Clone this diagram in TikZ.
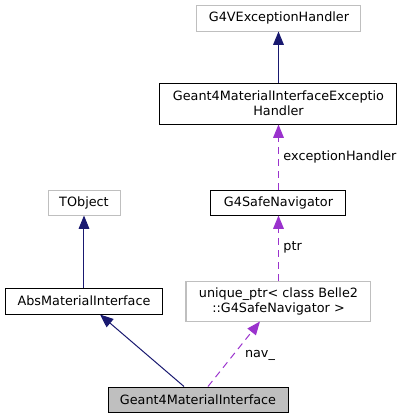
\documentclass[tikz,border=0pt]{standalone}
\usepackage{fontspec}
\setmainfont{DejaVu Sans}
\usetikzlibrary{arrows.meta}

\definecolor{inheritblue}{RGB}{25,25,112}
\definecolor{usagepurple}{RGB}{154,50,205}
\definecolor{boxgray}{RGB}{191,191,191}

\tikzset{every picture/.style={line width=0.75pt}}
\tikzset{
  clsbox/.style={draw=black, inner sep=0pt, align=center, font=\fontsize{9.6}{11.2}\selectfont},
  extbox/.style={clsbox, draw=boxgray},
  inherit/.style={draw=inheritblue, -{Triangle[length=10pt,width=8pt]}},
  usage/.style={draw=usagepurple, dash pattern=on 5.25pt off 3.75pt, -{Triangle[length=10pt,width=8pt]}},
  edgelabel/.style={font=\fontsize{9.6}{11.2}\selectfont, inner sep=0.75pt}
}

\begin{document}
\begin{tikzpicture}[x=0.75pt,y=0.75pt,yscale=-1,xscale=1]
\useasboundingbox (0,0) rectangle (404,419);

%Shape: Rectangle [G4VExceptionHandler]
\node [extbox, minimum width=123pt, minimum height=19.5pt] (g4v) at (279,18) {G4VExceptionHandler};
%Shape: Rectangle [exception handler]
\node [clsbox, minimum width=177.75pt, minimum height=30.75pt] (g4exc) at (278.5,103.5) {Geant4MaterialInterfaceExceptio\\Handler};
%Shape: Rectangle [G4SafeNavigator]
\node [clsbox, minimum width=101.25pt, minimum height=18.75pt] (safenav) at (278.5,202.5) {G4SafeNavigator};
%Shape: Rectangle [TObject]
\node [extbox, minimum width=54pt, minimum height=18.75pt] (tobj) at (84,202.5) {TObject};
%Shape: Rectangle [AbsMaterialInterface]
\node [clsbox, minimum width=118.5pt, minimum height=19.5pt] (absmat) at (84,301) {AbsMaterialInterface};
%Shape: Rectangle [unique_ptr]
\node [extbox, minimum width=138.75pt, minimum height=30pt] (uptr) at (278.5,301) {unique\_ptr< class Belle2\\::G4SafeNavigator >};
%Shape: Rectangle [Geant4MaterialInterface]
\node [clsbox, fill=boxgray, minimum width=135pt, minimum height=18.75pt] (g4mat) at (198,399.5) {Geant4MaterialInterface};

%Straight Lines [inheritance]
\draw [inherit] (g4exc.north) -- (g4exc.north |- g4v.south);
\draw [inherit] (absmat.north) -- (tobj.south);
\draw [inherit] ([xshift=-10.5pt]g4mat.north) -- ([xshift=12pt]absmat.south);
%Straight Lines [usage]
\draw [usage] (safenav.north) -- (safenav.north |- g4exc.south);
\draw [usage] (uptr.north) -- (uptr.north |- safenav.south);
\draw [usage] ([xshift=7.5pt]g4mat.north) -- ([xshift=-13.9pt]uptr.south);

% Text Node
\node [edgelabel, anchor=west] (lblexc) at (282,157) {exceptionHandler};
% Text Node
\node [edgelabel, anchor=west] (lblptr) at (282,247) {ptr};
% Text Node
\node [edgelabel] (lblnav) at (260,355) {nav\_};

\end{tikzpicture}
\end{document}
